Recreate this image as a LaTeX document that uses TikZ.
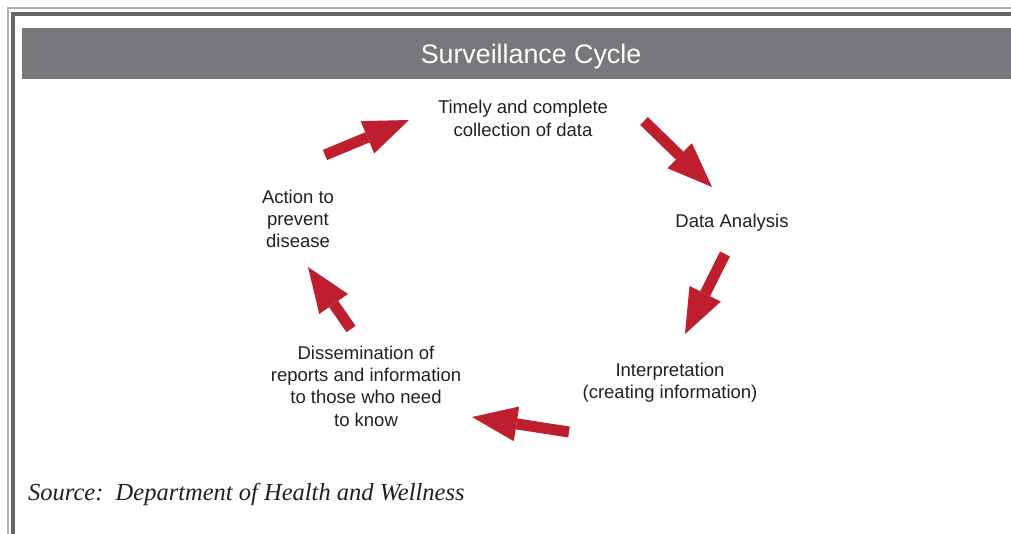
\documentclass[tikz,border=0pt]{standalone}
\usepackage{fontspec}
\setmainfont{Liberation Sans}
\newfontfamily\sourcefont{Liberation Serif}
\usetikzlibrary{arrows.meta}
\definecolor{cyclered}{RGB}{190,30,45}
\definecolor{bargray}{RGB}{119,120,123}
\definecolor{framegray}{RGB}{102,102,102}
\definecolor{textgray}{RGB}{35,31,32}
\tikzset{cyclearrow/.style = {line width=11pt, draw=cyclered,
    -{Triangle[length=45pt,width=35pt,line width=0pt]}}}
\tikzset{stage/.style = {align=center, text=textgray, inner sep=0pt,
    font=\fontsize{18.5}{22.3}\selectfont}}

\begin{document}
\begin{tikzpicture}[x=1pt,y=-1pt]
    \useasboundingbox (0,0) rectangle (1011,533);
    \clip (0,0) rectangle (1011,533);
    % frame and title bar
    \draw[line width=1.5pt, gray!60] (8,560) |- (1060,8);
    \draw[line width=3.5pt, framegray] (13,560) |- (1060,14);
    \fill[bargray] (22,28) rectangle (1040,79);
    \node (title) at (531,57) [text=white, font=\fontsize{26.8}{30}\selectfont] {Surveillance Cycle};

    \node (timely) at (523,118.5) [stage] {Timely and complete\\collection of data};
    \node (analysis) at (732,223) [stage] {Data Analysis};
    \node (interp) at (670,383) [stage] {Interpretation\\(creating information)};
    \node (dissem) at (366,386) [stage] {Dissemination of\\reports and information\\to those who need\\to know};
    \node (action) at (298,219) [stage] {Action to\\prevent\\disease};

    % arrow ends
    \coordinate (a1) at (325,155);  \coordinate (b1) at (409,120);
    \coordinate (a2) at (644,121);  \coordinate (b2) at (712,187);
    \coordinate (a3) at (725,254);  \coordinate (b3) at (685,334);
    \coordinate (a4) at (569,432);  \coordinate (b4) at (472,417);
    \coordinate (a5) at (351,329);  \coordinate (b5) at (308,267);

    \draw[cyclearrow] (a1) -- (b1);
    \draw[cyclearrow] (a2) -- (b2);
    \draw[cyclearrow] (a3) -- (b3);
    \draw[cyclearrow] (a4) -- (b4);
    \draw[cyclearrow] (a5) -- (b5);

    \node (source) at (28,500) [anchor=base west, inner sep=0pt, text=textgray,
        font=\sourcefont\itshape\fontsize{24.5}{28}\selectfont] {Source:\ \ Department of Health and Wellness};
\end{tikzpicture}
\end{document}
